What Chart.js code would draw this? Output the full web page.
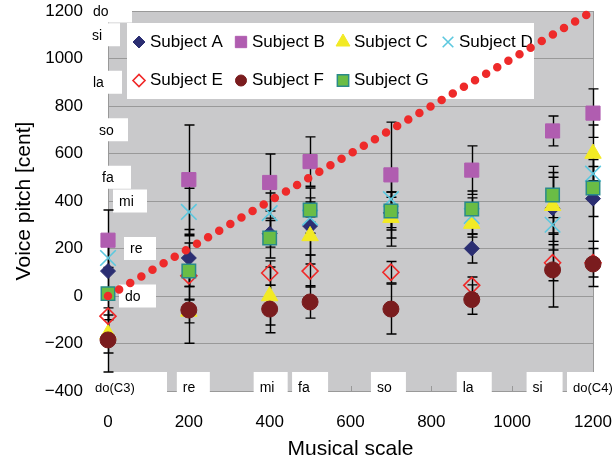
<!DOCTYPE html>
<html>
<head>
<meta charset="utf-8">
<script src="https://cdn.jsdelivr.net/npm/chart.js@4"></script>
<style>
  body { margin: 0; background: #fff; }
  canvas { display: block; }
</style>
</head>
<body>
<canvas id="chart" width="613" height="464"></canvas>
<script>
// musical scale positions (cent) and note names
const scalePositions = [0, 200, 400, 500, 700, 900, 1100, 1200];
const yNoteNames = ['do', 're', 'mi', 'fa', 'so', 'la', 'si', 'do'];
const xNoteNames = ['do(C3)', 're', 'mi', 'fa', 'so', 'la', 'si', 'do(C4)'];
const xTicks = [0, 200, 400, 600, 800, 1000, 1200];

// mean voice pitch per subject [cent] and error (+/-)
const subjectA = [105, 160, 262, 295, 350, 200, 370, 410];
const errorA   = [110, 120, 56, 160, 140, 61, 176, 180];
const subjectB = [235, 490, 478, 566, 510, 530, 695, 770];
const errorB   = [127, 230, 120, 104, 222, 102, 63, 102];
const subjectC = [-160, -65, 0, 253, 330, 305, 380, 600];
const errorC   = [80, 48, 122, 80, 86, 57, 120, 120];
const subjectD = [160, 354, 349, 330, 408, 337, 300, 515];
const errorD   = [60, 100, 85, 66, 30, 76, 70, 30];
const subjectE = [-85, 85, 97, 105, 100, 45, 140, 140];
const errorE   = [120, 45, 51, 67, 45, 35, 76, 60];
const subjectF = [-185, -59, -55, -25, -55, -15, 110, 135];
const errorF   = [135, 140, 100, 68, 105, 62, 156, 95];
const subjectG = [10, 105, 244, 362, 358, 366, 425, 455];
const errorG   = [110, 118, 84, 51, 80, 76, 95, 120];

// ideal line: voice pitch == musical scale
const idealLine = [0, 1200];

const FONT = "'Liberation Sans', Arial, sans-serif";

const subjects = [
  { label: 'Subject A', values: subjectA, errors: errorA, pointStyle: 'rectRot', radius: 7.5, bg: '#2b2e72', border: '#2b2e72', bw: 1, legendRadius: 6 },
  { label: 'Subject B', values: subjectB, errors: errorB, pointStyle: 'rect', radius: 10, bg: '#b05db0', border: '#b05db0', bw: 1, legendRadius: 8 },
  { label: 'Subject C', values: subjectC, errors: errorC, pointStyle: 'triangle', radius: 9.5, bg: '#f2ea24', border: '#f2ea24', bw: 1, legendRadius: 8 },
  { label: 'Subject D', values: subjectD, errors: errorD, pointStyle: 'crossRot', radius: 11, bg: '#5cc8df', border: '#5cc8df', bw: 1.6, legendRadius: 7.5 },
  { label: 'Subject E', values: subjectE, errors: errorE, pointStyle: 'rectRot', radius: 8, bg: 'rgba(0,0,0,0)', border: '#f02828', bw: 1.6, legendRadius: 6 },
  { label: 'Subject F', values: subjectF, errors: errorF, pointStyle: 'circle', radius: 8, bg: '#7a1c1e', border: '#7a1c1e', bw: 1, legendRadius: 5.5 },
  { label: 'Subject G', values: subjectG, errors: errorG, pointStyle: 'rect', radius: 9.5, bg: '#6abd45', border: '#2a8a8a', bw: 1.5, legendRadius: 8 }
];

// layout of the white note boxes (offsets in px)
const yNoteLayout = [[17, 11, 48], [22, 16, 48], [11, 5, 39], [-6, -12, 23], [-9, -14, 20], [-15, -20, 14], [-16, -20, 12], [-15, -20, 24]];
const xNoteLayout = [[-19, 78, 13], [-12, 33, 14], [-16, 34, 14], [-18, 36, 14], [-20, 35, 14], [-15, 35, 14], [-26, 36, 14], [-26, 50, 13]];
const legendCols = [139, 241, 343, 448];
const legendRows = [42, 80.5];

const datasets = subjects.map((s, i) => ({
  label: s.label,
  data: s.values.map((v, j) => ({ x: scalePositions[j], y: v })),
  pointStyle: s.pointStyle,
  pointRadius: s.radius,
  pointHoverRadius: s.radius,
  backgroundColor: s.bg,
  borderColor: s.border,
  pointBorderWidth: s.bw,
  showLine: false,
  clip: false,
  order: 7 - i
}));

datasets.push({
  label: 'ideal',
  data: idealLine.map(v => ({ x: v, y: v })),
  showLine: true,
  pointRadius: 0,
  borderColor: '#ee2a2a',
  borderWidth: 8.5,
  borderDash: [0, 12.9],
  borderCapStyle: 'round',
  clip: false,
  order: 0
});

const fmtTick = v => String(v).replace('-', '\u2212');

const decorations = {
  id: 'decorations',
  beforeDraw(chart) {
    const { ctx, chartArea: a } = chart;
    ctx.save();
    ctx.fillStyle = '#c9c9cb';
    ctx.fillRect(a.left, a.top, a.right - a.left, a.bottom - a.top);
    ctx.restore();
  },
  beforeDatasetsDraw(chart) {
    const { ctx, chartArea: a, scales: { x, y } } = chart;
    ctx.save();

    // right border and small inward ticks on the x axis
    ctx.strokeStyle = '#999';
    ctx.lineWidth = 1;
    ctx.beginPath();
    ctx.moveTo(a.right + 0.5, a.top);
    ctx.lineTo(a.right + 0.5, a.bottom);
    xTicks.forEach(v => {
      const px = Math.round(x.getPixelForValue(v)) + 0.5;
      ctx.moveTo(px, a.bottom);
      ctx.lineTo(px, a.bottom - 5);
    });
    ctx.stroke();

    // note name boxes
    ctx.font = '14px ' + FONT;
    ctx.textBaseline = 'middle';
    ctx.textAlign = 'left';
    yNoteNames.forEach((name, i) => {
      const py = y.getPixelForValue(scalePositions[i]);
      const [tx, bl, br] = yNoteLayout[i];
      ctx.fillStyle = '#fff';
      ctx.fillRect(a.left + bl, py - 11.5, br - bl, 23);
      ctx.fillStyle = '#000';
      ctx.fillText(name, a.left + tx, py + 1);
    });
    xNoteNames.forEach((name, i) => {
      const px = x.getPixelForValue(scalePositions[i]);
      const [bl, w, fs] = xNoteLayout[i];
      ctx.fillStyle = '#fff';
      ctx.fillRect(px + bl, a.bottom - 19, w, 26);
      ctx.fillStyle = '#000';
      ctx.font = fs + 'px ' + FONT;
      ctx.fillText(name, px + bl + 6, a.bottom - 3);
    });

    // legend box
    ctx.fillStyle = '#fff';
    ctx.fillRect(127, 23, 407, 76);
    ctx.font = '17px ' + FONT;
    subjects.forEach((s, i) => {
      const col = i < 4 ? i : i - 4;
      const row = i < 4 ? 0 : 1;
      const mx = legendCols[col];
      const my = legendRows[row];
      ctx.fillStyle = s.bg;
      ctx.strokeStyle = s.border;
      ctx.lineWidth = s.bw;
      Chart.helpers.drawPoint(ctx, { pointStyle: s.pointStyle, radius: s.legendRadius, rotation: 0, borderWidth: s.bw }, mx, my);
      ctx.fillStyle = '#000';
      ctx.fillText(s.label, mx + 11, my);
    });

    // error bars
    ctx.strokeStyle = '#000';
    ctx.lineWidth = 1.4;
    subjects.forEach(s => {
      s.values.forEach((v, j) => {
        const px = Math.round(x.getPixelForValue(scalePositions[j])) + 0.5;
        const top = y.getPixelForValue(v + s.errors[j]);
        const bot = y.getPixelForValue(v - s.errors[j]);
        ctx.beginPath();
        ctx.moveTo(px, top);
        ctx.lineTo(px, bot);
        ctx.moveTo(px - 5, top);
        ctx.lineTo(px + 5, top);
        ctx.moveTo(px - 5, bot);
        ctx.lineTo(px + 5, bot);
        ctx.stroke();
      });
    });
    ctx.restore();
  },
  afterDraw(chart) {
    const { ctx, chartArea: a } = chart;
    ctx.save();
    ctx.fillStyle = '#000';
    ctx.font = '21px ' + FONT;
    ctx.textAlign = 'center';
    ctx.textBaseline = 'middle';
    ctx.fillText('Musical scale', (a.left + a.right) / 2, 449);
    ctx.translate(24, (a.top + a.bottom) / 2);
    ctx.rotate(-Math.PI / 2);
    ctx.fillText('Voice pitch [cent]', 0, 0);
    ctx.restore();
  }
};

new Chart(document.getElementById('chart'), {
  type: 'scatter',
  data: { datasets },
  options: {
    responsive: false,
    animation: false,
    layout: { padding: { top: 11, right: 20, left: 0, bottom: 0 }, autoPadding: false },
    plugins: { legend: { display: false }, tooltip: { enabled: false } },
    scales: {
      x: {
        type: 'linear',
        min: 0,
        max: 1200,
        afterFit(scale) {
          scale.height = 73;
          scale.paddingLeft = 0;
          scale.paddingRight = 0;
        },
        grid: { display: false, drawTicks: false },
        border: { display: true, color: '#999' },
        ticks: { stepSize: 200, padding: 21, color: '#000', font: { size: 17, family: FONT }, callback: fmtTick }
      },
      y: {
        type: 'linear',
        min: -400,
        max: 1200,
        afterFit(scale) {
          scale.width = 108;
          scale.paddingTop = 0;
          scale.paddingBottom = 0;
        },
        grid: { color: '#999', drawTicks: false },
        border: { display: true, color: '#999' },
        ticks: { stepSize: 200, padding: 25, color: '#000', font: { size: 17, family: FONT }, callback: fmtTick }
      }
    }
  },
  plugins: [decorations]
});
</script>
</body>
</html>
